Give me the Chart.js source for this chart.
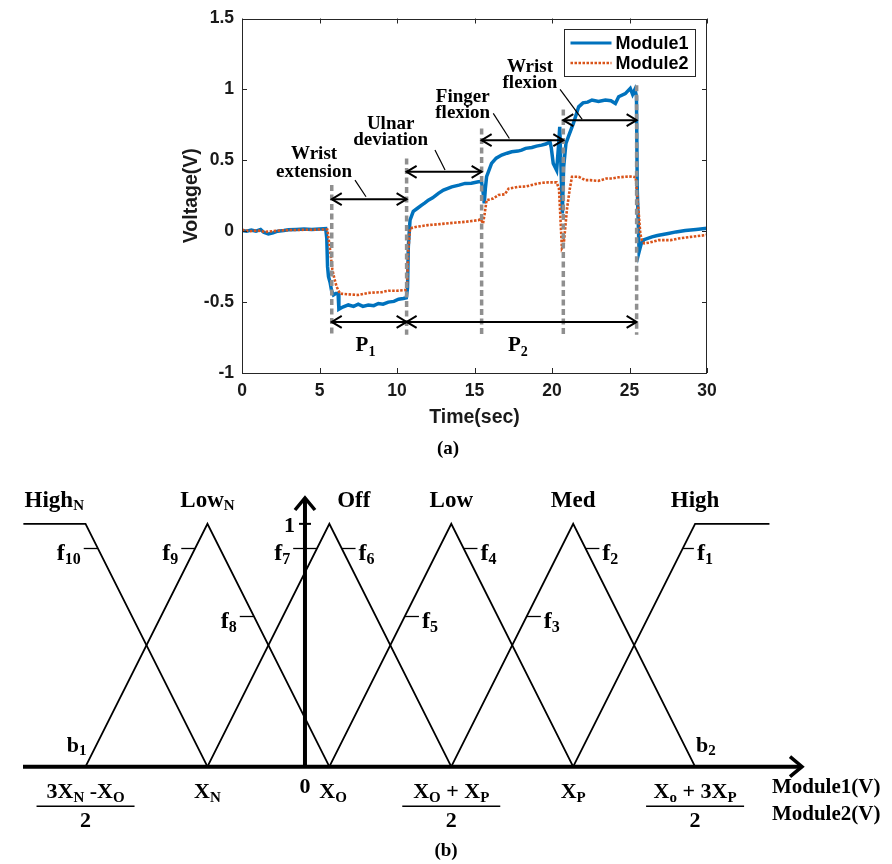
<!DOCTYPE html>
<html><head><meta charset="utf-8">
<script src="https://cdn.jsdelivr.net/npm/chart.js@4.4.1/dist/chart.umd.min.js"></script>
<style>
html,body{margin:0;padding:0;background:#fff;}
#wrap{position:relative;width:892px;height:864px;background:#fff;}
#ca{position:absolute;left:0;top:0;}
#cb{position:absolute;left:0;top:465px;}
</style></head><body>
<div id="wrap"><canvas id="ca" width="892" height="465"></canvas><canvas id="cb" width="892" height="399"></canvas></div>
<script>
// ---------------- Panel (a) data ----------------
const timeM1 = [0.0,0.3,0.6,0.9,1.2,1.4,1.7,2.0,2.3,2.7,3.0,3.5,4.0,4.5,5.0,5.4,5.47,5.52,5.58,5.68,5.78,5.9,6.05,6.2,6.25,6.5,6.86,7.2,7.5,7.8,8.15,8.5,8.8,9.1,9.44,9.8,10.1,10.4,10.6,10.68,10.73,10.84,11.05,11.3,11.59,11.8,12.02,12.3,12.67,13.0,13.53,14.0,14.39,14.8,15.25,15.45,15.55,15.63,15.7,15.78,16.1,16.4,16.75,17.1,17.4,17.8,18.04,18.3,18.7,19.0,19.33,19.6,19.87,19.95,20.08,20.3,20.42,20.5,20.58,20.67,20.75,20.9,21.1,21.38,21.72,22.0,22.3,22.58,23.0,23.44,23.8,24.09,24.3,24.73,25.05,25.2,25.35,25.45,25.5,25.62,25.75,25.94,26.45,26.8,27.5,28.0,28.6,29.3,30.0];
const voltM1 = [0.005,0.0,0.008,0.0,0.012,-0.008,-0.02,-0.012,0.0,0.005,0.01,0.012,0.015,0.012,0.015,0.018,-0.05,-0.25,-0.32,-0.36,-0.42,-0.45,-0.44,-0.44,-0.55,-0.535,-0.52,-0.53,-0.515,-0.53,-0.52,-0.525,-0.51,-0.515,-0.5,-0.495,-0.48,-0.475,-0.47,-0.4,-0.11,0.078,0.14,0.16,0.184,0.2,0.219,0.235,0.267,0.29,0.313,0.325,0.337,0.338,0.348,0.35,0.28,0.196,0.3,0.384,0.478,0.515,0.537,0.55,0.56,0.565,0.572,0.584,0.59,0.6,0.607,0.615,0.63,0.59,0.478,0.43,0.6,0.736,0.45,0.125,0.45,0.62,0.68,0.76,0.877,0.905,0.91,0.925,0.915,0.925,0.92,0.9,0.948,0.97,1.007,0.965,1.0,0.95,0.3,-0.145,-0.09,-0.06,-0.04,-0.03,-0.016,-0.005,0.005,0.012,0.02];
const timeM2 = [0.0,0.5,1.0,1.5,2.0,2.5,3.0,3.5,4.0,4.5,5.0,5.5,5.55,5.68,5.83,5.95,6.1,6.32,6.8,7.5,8.15,9.0,9.44,10.0,10.55,10.65,10.72,10.84,11.2,12.0,12.77,13.7,14.4,15.25,15.4,15.55,15.65,15.78,16.2,16.54,16.96,17.2,17.82,18.3,18.92,19.33,19.78,20.3,20.45,20.53,20.64,20.75,20.97,21.15,21.29,21.72,22.15,22.46,23.0,23.5,23.87,24.3,24.73,25.2,25.4,25.5,25.6,25.7,25.8,25.95,26.3,26.88,27.66,28.17,28.95,29.9,30.0];
const voltM2 = [0.01,0.0,0.005,-0.005,0.0,0.005,0.008,0.008,0.01,0.01,0.012,0.012,-0.02,-0.13,-0.27,-0.33,-0.39,-0.44,-0.445,-0.45,-0.435,-0.43,-0.42,-0.42,-0.415,-0.39,-0.15,0.02,0.03,0.043,0.05,0.06,0.066,0.078,0.085,0.055,0.12,0.219,0.23,0.255,0.26,0.3,0.313,0.315,0.332,0.341,0.344,0.344,0.3,0.125,-0.121,-0.1,0.16,0.3,0.384,0.384,0.36,0.36,0.355,0.372,0.372,0.38,0.384,0.386,0.38,0.25,0.12,-0.02,-0.063,-0.086,-0.08,-0.063,-0.063,-0.051,-0.04,-0.028,-0.025];
const seriesNames = ['Module1','Module2'];
const xTicks = [0,5,10,15,20,25,30];
const yTicks = [-1,-0.5,0,0.5,1,1.5];
const yTickLabels = ['-1','-0.5','0','0.5','1','1.5'];
// event markers (gray dashed lines) and gesture annotations
const markerTimes = [5.79,10.62,15.46,20.73,25.46];
const markerTops = [0.325,0.513,0.725,0.859,1.03];
const markerBottom = -0.73;
const gestureLine1 = ['Wrist','Ulnar','Finger','Wrist'];
const gestureLine2 = ['extension','deviation','flexion','flexion'];
const gestureArrowV = [0.226,0.419,0.642,0.783];
const gestureTextT = [4.65,9.59,14.24,18.58];
const gestureTextV1 = [0.506,0.718,0.913,1.124];
const gestureTextV2 = [0.384,0.607,0.795,1.007];
const leaderFrom = [[7.29,0.36],[12.45,0.572],[16.21,0.831],[20.52,1.0]];
const leaderTo = [[8.0,0.243],[13.1,0.431],[17.25,0.654],[21.95,0.788]];
const phaseNames = ['1','2'];
const phaseStart = [5.79,10.62];
const phaseEnd = [10.62,25.46];
const phaseArrowV = -0.64;
const phaseLabelT = [7.97,17.8];
const phaseLabelV = -0.846;

const BLUE = '#0072BD', ORANGE = '#D95319';
const SANS = '"Liberation Sans", Arial, sans-serif';
const SERIF = '"Liberation Serif", "Times New Roman", serif';

function head(ctx, x, y, dir, len, half){ // dir: 1 right, -1 left, 'up'
  ctx.beginPath();
  if (dir === 'up'){ ctx.moveTo(x-half, y+len); ctx.lineTo(x, y); ctx.lineTo(x+half, y+len); }
  else { ctx.moveTo(x-dir*len, y-half); ctx.lineTo(x, y); ctx.lineTo(x-dir*len, y+half); }
  ctx.stroke();
}
function drawRich(ctx, parts, x, y, align, mainPx, subPx, subDy){
  const fMain = 'bold '+mainPx+'px '+SERIF, fSub = 'bold '+subPx+'px '+SERIF;
  let w = 0; const ws = [];
  parts.forEach(p=>{ ctx.font = p[1]?fSub:fMain; const m = ctx.measureText(p[0]).width; ws.push(m); w += m; });
  let cx = align==='center' ? x-w/2 : (align==='right' ? x-w : x);
  ctx.textAlign='left'; ctx.textBaseline='alphabetic'; ctx.fillStyle='#000';
  parts.forEach((p,i)=>{ ctx.font = p[1]?fSub:fMain; ctx.fillText(p[0], cx, y+(p[1]?subDy:0)); cx += ws[i]; });
  return w;
}

const panelA = {
  id:'panelA',
  afterDraw(chart){
    const {ctx, chartArea:a, scales:{x,y}} = chart;
    const X = v=>x.getPixelForValue(v), Y = v=>y.getPixelForValue(v);
    ctx.save();
    // gray dashed event lines
    ctx.strokeStyle='#8f8f8f'; ctx.lineWidth=3.5; ctx.setLineDash([6,3.5]); ctx.lineCap='butt';
    markerTimes.forEach((t,i)=>{ ctx.beginPath(); ctx.moveTo(X(t), Y(markerTops[i])); ctx.lineTo(X(t), Y(markerBottom)); ctx.stroke(); });
    ctx.setLineDash([]);
    // gesture double arrows
    ctx.strokeStyle='#000'; ctx.lineWidth=2;
    for (let i=0;i<gestureArrowV.length;i++){
      const x1=X(markerTimes[i]), x2=X(markerTimes[i+1]), yy=Y(gestureArrowV[i]);
      ctx.beginPath(); ctx.moveTo(x1,yy); ctx.lineTo(x2,yy); ctx.stroke();
      head(ctx,x1,yy,-1,10,6); head(ctx,x2,yy,1,10,6);
      ctx.lineWidth=1.2; ctx.beginPath(); ctx.moveTo(X(leaderFrom[i][0]),Y(leaderFrom[i][1])); ctx.lineTo(X(leaderTo[i][0]),Y(leaderTo[i][1])); ctx.stroke(); ctx.lineWidth=2;
      ctx.font='bold 19px '+SERIF; ctx.fillStyle='#000'; ctx.textAlign='center'; ctx.textBaseline='alphabetic';
      ctx.fillText(gestureLine1[i], X(gestureTextT[i]), Y(gestureTextV1[i]));
      ctx.fillText(gestureLine2[i], X(gestureTextT[i]), Y(gestureTextV2[i]));
    }
    // phase arrows
    for (let i=0;i<phaseStart.length;i++){
      const x1=X(phaseStart[i]), x2=X(phaseEnd[i]), yy=Y(phaseArrowV);
      ctx.beginPath(); ctx.moveTo(x1,yy); ctx.lineTo(x2,yy); ctx.stroke();
      head(ctx,x1,yy,-1,10,6); head(ctx,x2,yy,1,10,6);
      drawRich(ctx, [['P',0],[phaseNames[i],1]], X(phaseLabelT[i]), Y(phaseLabelV), 'center', 21, 14, 5);
    }
    // box + inward ticks
    ctx.strokeStyle='#262626'; ctx.lineWidth=1;
    ctx.strokeRect(Math.round(a.left)+0.5, Math.round(a.top)+0.5, Math.round(a.right-a.left)-1, Math.round(a.bottom-a.top)-1);
    ctx.beginPath();
    xTicks.forEach(v=>{ const px=Math.round(X(v))+0.5; ctx.moveTo(px,a.bottom); ctx.lineTo(px,a.bottom-5); ctx.moveTo(px,a.top); ctx.lineTo(px,a.top+5); });
    yTicks.forEach(v=>{ const py=Math.round(Y(v))+0.5; ctx.moveTo(a.left,py); ctx.lineTo(a.left+5,py); ctx.moveTo(a.right,py); ctx.lineTo(a.right-5,py); });
    ctx.stroke();
    // legend
    const lx=564.5, ly=29.5, lw=131, lh=47;
    ctx.fillStyle='#fff'; ctx.fillRect(lx,ly,lw,lh);
    ctx.strokeStyle='#262626'; ctx.lineWidth=1; ctx.strokeRect(lx,ly,lw,lh);
    chart.data.datasets.forEach((ds,i)=>{
      const yy = ly + 13.5 + i*20;
      ctx.strokeStyle=ds.borderColor; ctx.lineWidth=Math.min(ds.borderWidth,3); ctx.setLineDash(ds.borderDash||[]);
      ctx.beginPath(); ctx.moveTo(lx+6, yy); ctx.lineTo(lx+47, yy); ctx.stroke(); ctx.setLineDash([]);
      ctx.fillStyle='#000'; ctx.font='bold 18px '+SANS; ctx.textAlign='left'; ctx.textBaseline='middle';
      ctx.fillText(ds.label, lx+51, yy+1);
    });
    // caption
    ctx.font='bold 19px '+SERIF; ctx.fillStyle='#000'; ctx.textAlign='center'; ctx.textBaseline='alphabetic';
    ctx.fillText('(a)', 448, 454);
    ctx.restore();
  }
};

new Chart(document.getElementById('ca'), {
  type:'line',
  data:{ datasets:[
    {label:seriesNames[0], data:timeM1.map((t,i)=>({x:t,y:voltM1[i]})), borderColor:BLUE, borderWidth:3.5, pointRadius:0, tension:0, order:1},
    {label:seriesNames[1], data:timeM2.map((t,i)=>({x:t,y:voltM2[i]})), borderColor:ORANGE, borderWidth:2.6, borderDash:[2.5,1.5], pointRadius:0, tension:0, order:0}
  ]},
  options:{
    responsive:false, animation:false, devicePixelRatio:1,
    layout:{padding:{left:170, right:185, top:18, bottom:32}},
    plugins:{legend:{display:false}, tooltip:{enabled:false}},
    scales:{
      x:{type:'linear', min:0, max:30, afterFit:s=>{s.height=60;},
         afterBuildTicks:s=>{s.ticks=xTicks.map(v=>({value:v}));},
         grid:{display:false, drawTicks:false}, border:{display:false},
         ticks:{padding:8, color:'#1a1a1a', font:{family:SANS, size:17.5, weight:'bold'}, callback:v=>String(v)},
         title:{display:true, text:'Time(sec)', color:'#1a1a1a', font:{family:SANS, size:19.5, weight:'bold'}, padding:{top:0,bottom:4}}},
      y:{type:'linear', min:-1, max:1.5, afterFit:s=>{s.width=72;},
         afterBuildTicks:s=>{s.ticks=yTicks.map(v=>({value:v}));},
         grid:{display:false, drawTicks:false}, border:{display:false},
         ticks:{padding:8, color:'#1a1a1a', font:{family:SANS, size:17.5, weight:'bold'}, callback:v=>{const k=yTicks.indexOf(v); return k>=0?yTickLabels[k]:'';}},
         title:{display:true, text:'Voltage(V)', color:'#1a1a1a', font:{family:SANS, size:19.5, weight:'bold'}, padding:{top:10,bottom:0}}}
    }
  },
  plugins:[panelA]
});

// ---------------- Panel (b) data ----------------
const mfNames = [['High','N'],['Low','N'],['Off',''],['Low',''],['Med',''],['High','']];
const mfX = [[-2.31,-1.8,-0.8],[-1.8,-0.8,0.2],[-0.8,0.2,1.2],[0.2,1.2,2.2],[1.2,2.2,3.2],[2.2,3.2,3.81]];
const mfY = [[1,1,0],[0,1,0],[0,1,0],[0,1,0],[0,1,0],[0,1,1]];
const mfLabelX = [-2.30,-0.8,0.40,1.2,2.2,3.2];
const mfLabelAlign = ['left','center','center','center','center','center'];
const mfLabelY = 1.069;
const fNames = ['10','9','7','6','4','2','1','8','5','3'];
const fEdgeX = [-1.7,-0.9,0.1,0.3,1.3,2.3,3.1,-0.42,0.82,1.82];
const fLevel = [0.9,0.9,0.9,0.9,0.9,0.9,0.9,0.62,0.62,0.62];
const fSide = ['L','L','L','R','R','R','R','L','R','R'];
const fTickLen = [14,14,24,14,14,14,11,14,14,14];
const bottomLabels = [
  {x:-1.8, frac:true, num:[['3X',0],['N',1],[' -X',0],['O',1]]},
  {x:-0.8, frac:false, num:[['X',0],['N',1]]},
  {x:0.23, frac:false, num:[['X',0],['O',1]]},
  {x:1.2, frac:true, num:[['X',0],['O',1],[' + X',0],['P',1]]},
  {x:2.2, frac:false, num:[['X',0],['P',1]]},
  {x:3.2, frac:true, num:[['X',0],['o',1],[' + 3X',0],['P',1]]}
];
const boundNames = ['1','2'];
const boundX = [-1.8,3.2];
const axisLabels = ['Module1(V)','Module2(V)'];
const axisLabelX = 3.83;

const panelB = {
  id:'panelB',
  afterDraw(chart){
    const {ctx, chartArea:a, scales:{x,y}} = chart;
    const X=v=>x.getPixelForValue(v), Y=v=>y.getPixelForValue(v);
    const y0=Y(0), x0=X(0);
    ctx.save();
    ctx.strokeStyle='#000'; ctx.fillStyle='#000';
    // axes
    ctx.lineWidth=4; ctx.lineCap='butt';
    ctx.beginPath(); ctx.moveTo(a.left, y0); ctx.lineTo(a.right-1, y0); ctx.stroke();
    ctx.beginPath(); ctx.moveTo(x0, y0); ctx.lineTo(x0, a.top+13+1); ctx.stroke();
    ctx.lineWidth=3.5; ctx.lineJoin='miter';
    head(ctx, a.right, y0, 1, 12, 10);
    head(ctx, x0, a.top+13, 'up', 12, 10);
    // tick at 1
    ctx.lineWidth=2; ctx.beginPath(); ctx.moveTo(x0-6, Y(1)); ctx.lineTo(x0+6, Y(1)); ctx.stroke();
    drawRich(ctx, [['1',0]], x0-10, Y(1)+8, 'right', 22, 15, 0);
    // set names
    mfNames.forEach((n,i)=>{ drawRich(ctx, [[n[0],0],[n[1],1]], X(mfLabelX[i]), Y(mfLabelY), mfLabelAlign[i], 23, 15, 3); });
    // f labels
    ctx.lineWidth=1.3;
    fNames.forEach((n,i)=>{
      const ex=X(fEdgeX[i]), ey=Math.round(Y(fLevel[i]))+0.5, L=fTickLen[i];
      ctx.beginPath();
      if (fSide[i]==='L'){ ctx.moveTo(ex-L, ey); ctx.lineTo(ex, ey); ctx.stroke(); drawRich(ctx, [['f',0],[n,1]], ex-L-3, ey+11, 'right', 24, 16, 4); }
      else { ctx.moveTo(ex, ey); ctx.lineTo(ex+L, ey); ctx.stroke(); drawRich(ctx, [['f',0],[n,1]], ex+L+3, ey+11, 'left', 24, 16, 4); }
    });
    // boundary labels b1, b2
    drawRich(ctx, [['b',0],[boundNames[0],1]], X(boundX[0])+1, y0-15, 'right', 22, 15, 3);
    drawRich(ctx, [['b',0],[boundNames[1],1]], X(boundX[1])+1, y0-15, 'left', 22, 15, 3);
    // bottom labels
    drawRich(ctx, [['0',0]], x0, y0+26, 'center', 22, 15, 0);
    bottomLabels.forEach(b=>{
      const cx=X(b.x);
      drawRich(ctx, b.num, cx, y0+31.5, 'center', 22, 15, 4);
      if (b.frac){
        ctx.lineWidth=1.5; ctx.beginPath(); ctx.moveTo(cx-49, y0+39.5); ctx.lineTo(cx+49, y0+39.5); ctx.stroke();
        drawRich(ctx, [['2',0]], cx, y0+60.5, 'center', 22, 15, 0);
      }
    });
    axisLabels.forEach((t,i)=>{ drawRich(ctx, [[t,0]], X(axisLabelX), y0+26.5+i*27, 'left', 21, 15, 0); });
    ctx.font='bold 19px '+SERIF; ctx.textAlign='center'; ctx.textBaseline='alphabetic';
    ctx.fillText('(b)', 446, 391);
    ctx.restore();
  }
};

new Chart(document.getElementById('cb'), {
  type:'line',
  data:{ datasets: mfNames.map((n,i)=>({label:n.join(''), data:mfX[i].map((v,k)=>({x:v,y:mfY[i][k]})), borderColor:'#000', borderWidth:1.8, pointRadius:0, tension:0, clip:false})) },
  options:{
    responsive:false, animation:false, devicePixelRatio:1,
    layout:{padding:{left:23, right:90, top:20, bottom:39}},
    plugins:{legend:{display:false}, tooltip:{enabled:false}},
    scales:{
      x:{type:'linear', display:false, min:-2.313, max:4.077},
      y:{type:'linear', display:false, min:-0.24, max:1.16}
    }
  },
  plugins:[panelB]
});
</script>
</body></html>
